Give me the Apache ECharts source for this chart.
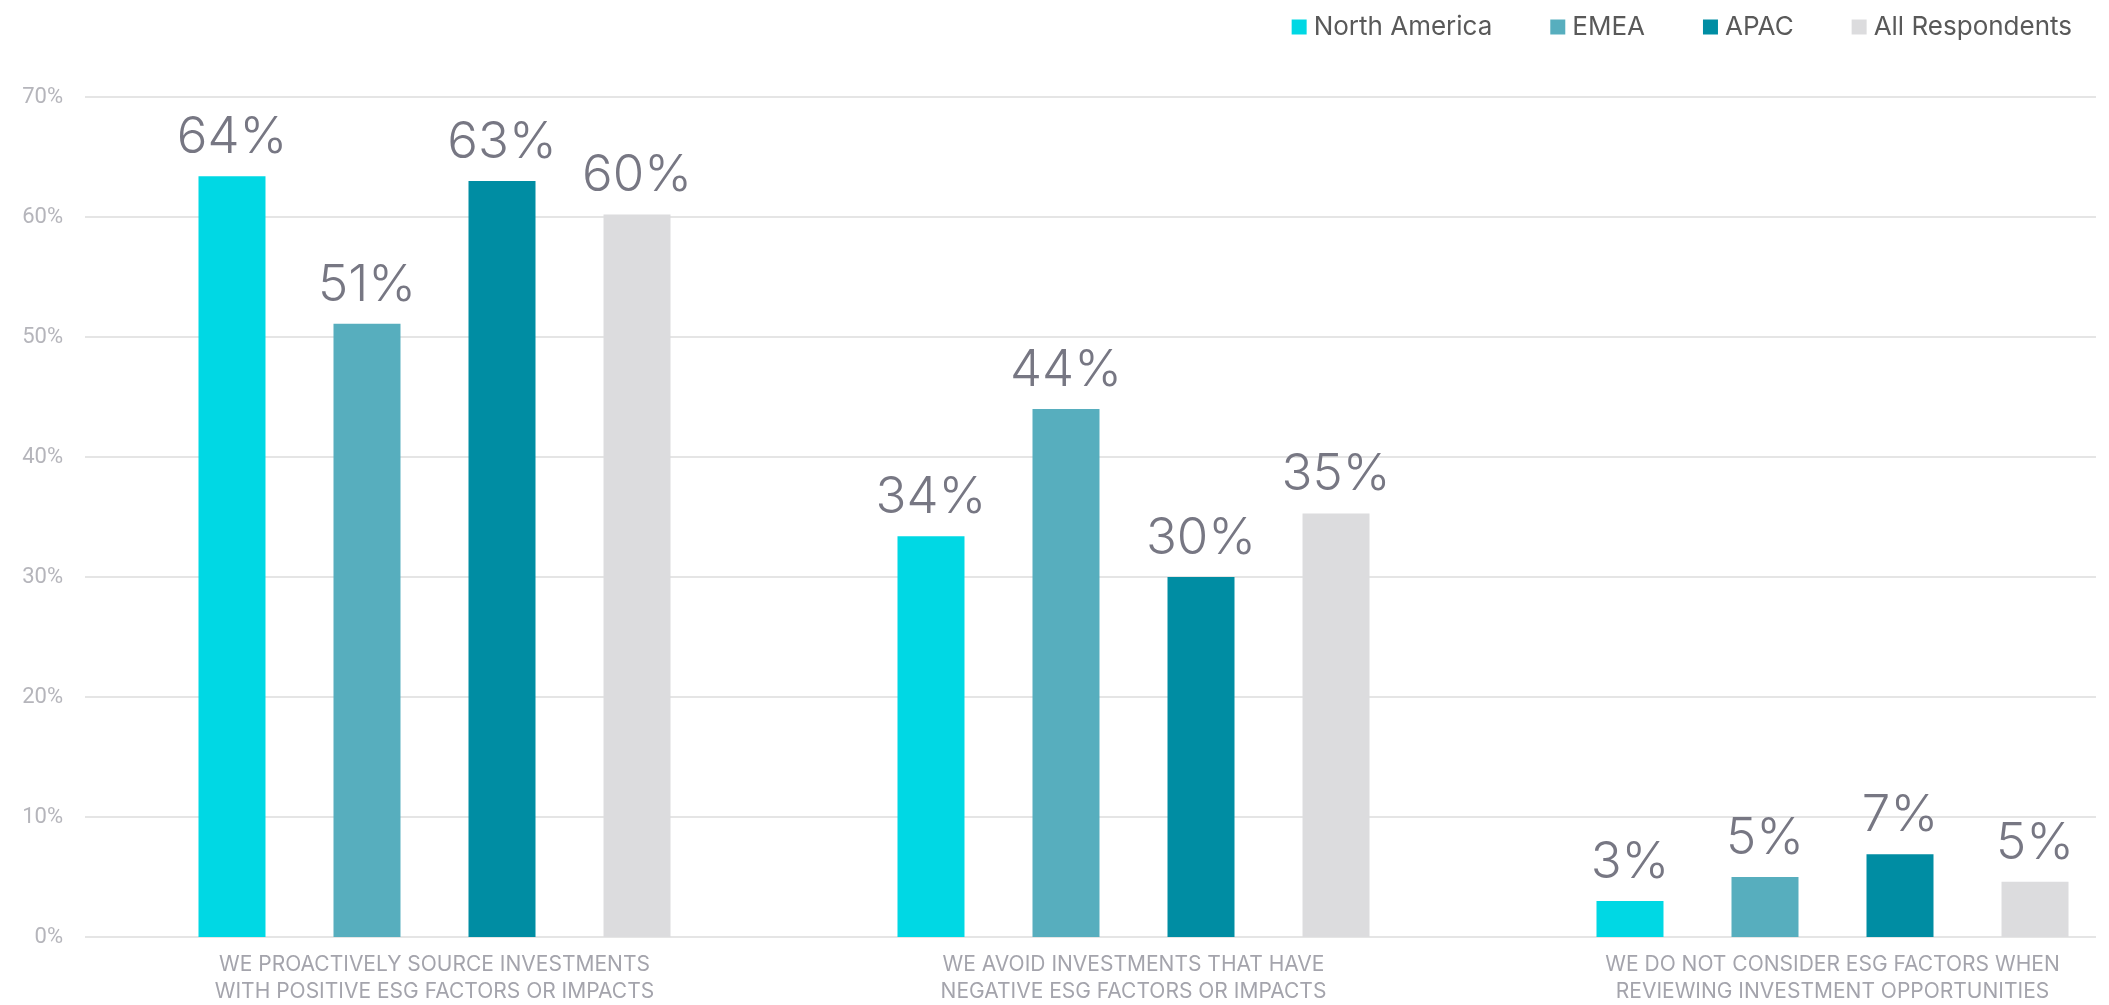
<!DOCTYPE html>
<html>
<head>
    <meta charset="utf-8">
    <script src="https://cdn.jsdelivr.net/npm/echarts@6/dist/echarts.min.js"></script>
    <style>
        html, body {margin: 0; padding: 0; background: #fff;}
    </style>
</head>
<body>
<div id="main" style="width: 2109px; height: 1005px"></div>
<script type="text/javascript">

    // categories (x axis)
    var categories = [
        'WE PROACTIVELY SOURCE INVESTMENTS\nWITH POSITIVE ESG FACTORS OR IMPACTS',
        'WE AVOID INVESTMENTS THAT HAVE\nNEGATIVE ESG FACTORS OR IMPACTS',
        'WE DO NOT CONSIDER ESG FACTORS WHEN\nREVIEWING INVESTMENT OPPORTUNITIES'
    ];
    var seriesNames = ['North America', 'EMEA', 'APAC', 'All Respondents'];

    // bar heights (%)
    var northAmerica = [63.4, 33.4, 3.0];
    var emea = [51.1, 44.0, 5.0];
    var apac = [63.0, 30.0, 6.9];
    var allRespondents = [60.2, 35.3, 4.6];

    // value labels as printed on the chart
    var northAmericaLabels = [64, 34, 3];
    var emeaLabels = [51, 44, 5];
    var apacLabels = [63, 30, 7];
    var allRespondentsLabels = [60, 35, 5];

    var yTicks = [0, 10, 20, 30, 40, 50, 60, 70];

    var colors = ['#00D8E4', '#57AEBE', '#008DA3', '#DCDCDE'];

    function makeSeries(name, values, labels) {
        return {
            name: name, type: 'bar',
            xAxisIndex: 1, yAxisIndex: 1,
            barWidth: 67, barGap: '101.5%',
            data: values,
            label: {
                show: true, position: 'top', distance: 13,
                fontFamily: 'Inter', fontWeight: 300, fontSize: 51,
                color: '#777783',
                formatter: function (p) { return labels[p.dataIndex] + '%'; }
            }
        };
    }

    var myChart = echarts.init(document.getElementById('main'));
    var option = {
        color: colors,
        backgroundColor: '#ffffff',
        animation: false,
        legend: {
            right: 32, top: 9,
            icon: 'rect', itemWidth: 15, itemHeight: 15, itemGap: 58,
            textStyle: {fontFamily: 'Inter', fontSize: 26, color: '#595959', padding: [0, 0, 0, 2]},
            data: seriesNames
        },
        grid: [
            {left: 85, right: 13, top: 97, bottom: 68, outerBoundsMode: 'none'},
            {left: 85, width: 2097, top: 97, bottom: 68, outerBoundsMode: 'none'}
        ],
        xAxis: [
            {type: 'category', gridIndex: 0, show: false, data: ['']},
            {
                type: 'category', gridIndex: 1, data: categories,
                axisLine: {show: false}, axisTick: {show: false},
                axisLabel: {
                    margin: 14, interval: 0,
                    fontFamily: 'Inter', fontSize: 21, lineHeight: 27,
                    color: '#a4a4ac', align: 'center'
                }
            }
        ],
        yAxis: [
            {
                type: 'value', gridIndex: 0,
                min: yTicks[0], max: yTicks[yTicks.length - 1], interval: 10,
                axisLine: {show: false}, axisTick: {show: false},
                axisLabel: {
                    margin: 22, fontFamily: 'Roboto', fontSize: 22, color: '#b5b5bb',
                    formatter: '{value}%'
                },
                splitLine: {lineStyle: {color: '#dcdcdc', width: 1.5}}
            },
            {
                type: 'value', gridIndex: 1,
                min: yTicks[0], max: yTicks[yTicks.length - 1], interval: 10,
                show: false, splitLine: {show: false}
            }
        ],
        series: [
            makeSeries(seriesNames[0], northAmerica, northAmericaLabels),
            makeSeries(seriesNames[1], emea, emeaLabels),
            makeSeries(seriesNames[2], apac, apacLabels),
            makeSeries(seriesNames[3], allRespondents, allRespondentsLabels)
        ]
    };
    myChart.setOption(option);
</script>
</body>
</html>
